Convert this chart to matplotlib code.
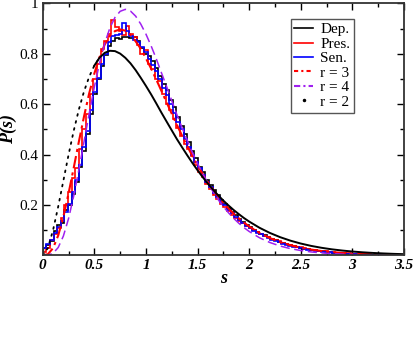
import numpy as np
import matplotlib
matplotlib.use("Agg")
import matplotlib.pyplot as plt
from matplotlib.lines import Line2D

plt.rcParams.update({
    'font.family': 'Liberation Serif',
    'font.size': 11,
})

# histogram bins (width 0.035 from 0 to 3.5)
bin_lo, bin_hi, n_bins = 0.0, 3.5, 100

dep = [0.028, 0.040, 0.058, 0.095, 0.120, 0.130, 0.178, 0.200, 0.245, 0.292,
       0.350, 0.415, 0.480, 0.560, 0.640, 0.700, 0.750, 0.795, 0.830, 0.850,
       0.862, 0.858, 0.868, 0.865, 0.862, 0.868, 0.850, 0.822, 0.800, 0.790,
       0.770, 0.742, 0.712, 0.680, 0.655, 0.618, 0.590, 0.548, 0.512, 0.480,
       0.448, 0.415, 0.385, 0.352, 0.330, 0.300, 0.278, 0.258, 0.238, 0.220,
       0.202, 0.188, 0.170, 0.160, 0.145, 0.132, 0.120, 0.112, 0.102, 0.094,
       0.086, 0.080, 0.072, 0.066, 0.060, 0.054, 0.049, 0.044, 0.040, 0.036,
       0.033, 0.030, 0.027, 0.024, 0.022, 0.020, 0.018, 0.016, 0.014, 0.013,
       0.011, 0.010, 0.009, 0.008, 0.007, 0.006, 0.005, 0.005, 0.004, 0.004,
       0.003, 0.003, 0.002, 0.002, 0.002, 0.001, 0.001, 0.001, 0.001, 0.000]

pres = [0.012, 0.030, 0.060, 0.085, 0.110, 0.150, 0.200, 0.250, 0.305, 0.345,
        0.420, 0.500, 0.560, 0.640, 0.700, 0.760, 0.820, 0.850, 0.880, 0.935,
        0.905, 0.890, 0.875, 0.910, 0.880, 0.865, 0.835, 0.800, 0.815, 0.760,
        0.740, 0.700, 0.690, 0.640, 0.600, 0.575, 0.540, 0.505, 0.475, 0.440,
        0.420, 0.395, 0.360, 0.330, 0.310, 0.282, 0.262, 0.240, 0.225, 0.205,
        0.190, 0.176, 0.160, 0.150, 0.138, 0.128, 0.116, 0.110, 0.100, 0.092,
        0.085, 0.078, 0.071, 0.066, 0.060, 0.055, 0.050, 0.046, 0.042, 0.038,
        0.034, 0.031, 0.028, 0.026, 0.023, 0.021, 0.019, 0.017, 0.016, 0.014,
        0.013, 0.011, 0.010, 0.009, 0.008, 0.007, 0.006, 0.006, 0.005, 0.004,
        0.004, 0.003, 0.003, 0.002, 0.002, 0.002, 0.001, 0.001, 0.001, 0.001]

sen = [0.030, 0.045, 0.062, 0.090, 0.112, 0.138, 0.172, 0.205, 0.252, 0.300,
       0.360, 0.430, 0.495, 0.575, 0.650, 0.705, 0.760, 0.800, 0.845, 0.870,
       0.875, 0.880, 0.920, 0.890, 0.872, 0.855, 0.845, 0.825, 0.805, 0.780,
       0.755, 0.730, 0.700, 0.665, 0.635, 0.600, 0.565, 0.530, 0.500, 0.462,
       0.430, 0.400, 0.370, 0.345, 0.318, 0.292, 0.270, 0.248, 0.232, 0.212,
       0.198, 0.180, 0.166, 0.152, 0.140, 0.128, 0.118, 0.108, 0.098, 0.090,
       0.083, 0.076, 0.069, 0.062, 0.057, 0.051, 0.046, 0.042, 0.038, 0.034,
       0.031, 0.028, 0.025, 0.022, 0.020, 0.018, 0.016, 0.015, 0.013, 0.012,
       0.010, 0.009, 0.008, 0.007, 0.007, 0.006, 0.005, 0.004, 0.004, 0.003,
       0.003, 0.002, 0.002, 0.002, 0.001, 0.001, 0.001, 0.001, 0.000, 0.000]

# smooth curves
s_curve = [0.00, 0.05, 0.10, 0.15, 0.20, 0.25, 0.30, 0.35, 0.40, 0.45,
           0.50, 0.55, 0.60, 0.65, 0.70, 0.75, 0.80, 0.85, 0.90, 0.95,
           1.00, 1.05, 1.10, 1.15, 1.20, 1.25, 1.30, 1.35, 1.40, 1.45,
           1.50, 1.55, 1.60, 1.65, 1.70, 1.75, 1.80, 1.85, 1.90, 1.95,
           2.00, 2.10, 2.20, 2.30, 2.40, 2.50, 2.60, 2.70, 2.80, 2.90,
           3.00, 3.10, 3.20, 3.30, 3.40, 3.50]

r2 = [0.0, 0.0290, 0.1000, 0.1937, 0.2964, 0.3986, 0.4940, 0.5787, 0.6506, 0.7086,
      0.7530, 0.7841, 0.8034, 0.8116, 0.8103, 0.8004, 0.7837, 0.7618, 0.7348, 0.7042,
      0.6721, 0.6385, 0.6028, 0.5660, 0.5307, 0.4957, 0.4609, 0.4286, 0.3969, 0.3664,
      0.3375, 0.3101, 0.2844, 0.2602, 0.2380, 0.2171, 0.1977, 0.1797, 0.1633, 0.1478,
      0.1339, 0.1093, 0.0889, 0.0720, 0.0581, 0.0467, 0.0374, 0.0299, 0.0238, 0.0190,
      0.0150, 0.0119, 0.0094, 0.0074, 0.0058, 0.0045]

r3 = [0.0, 0.0044, 0.0286, 0.0790, 0.1534, 0.2453, 0.3470, 0.4511, 0.5513, 0.6427,
      0.7216, 0.7865, 0.8359, 0.8706, 0.8898, 0.8964, 0.8913, 0.8752, 0.8491, 0.8194,
      0.7815, 0.7409, 0.6974, 0.6522, 0.6068, 0.5617, 0.5174, 0.4745, 0.4332, 0.3941,
      0.3571, 0.3224, 0.2905, 0.2607, 0.2335, 0.2085, 0.1859, 0.1651, 0.1465, 0.1297,
      0.1144, 0.0889, 0.0686, 0.0524, 0.0399, 0.0303, 0.0228, 0.0171, 0.0128, 0.0095,
      0.0071, 0.0052, 0.0039, 0.0028, 0.0021, 0.0015]

r4 = [0.0, 0.0006, 0.0079, 0.0311, 0.0766, 0.1457, 0.2353, 0.3396, 0.4510, 0.5628,
      0.6681, 0.7614, 0.8404, 0.9018, 0.9441, 0.9682, 0.9760, 0.9692, 0.9491, 0.9174,
      0.8776, 0.8309, 0.7797, 0.7242, 0.6696, 0.6135, 0.5578, 0.5060, 0.4562, 0.4087,
      0.3645, 0.3239, 0.2859, 0.2519, 0.2208, 0.1930, 0.1687, 0.1466, 0.1271, 0.1098,
      0.0946, 0.0696, 0.0509, 0.0368, 0.0265, 0.0190, 0.0134, 0.0095, 0.0066, 0.0046,
      0.0032, 0.0022, 0.0015, 0.0010, 0.0007, 0.0005]

x_ticks = [0, 0.5, 1, 1.5, 2, 2.5, 3, 3.5]
x_labels = ['0', '0.5', '1', '1.5', '2', '2.5', '3', '3.5']
y_ticks = [0.2, 0.4, 0.6, 0.8, 1.0]
y_labels = ['0.2', '0.4', '0.6', '0.8', '1']

purple = '#a020f0'

fig = plt.figure(figsize=(4.15, 3.37), dpi=100)
ax = fig.add_axes([0.103, 0.2424, 0.8705, 0.7478])

edges = np.linspace(bin_lo, bin_hi, n_bins + 1)
ax.stairs(dep, edges, color='black', lw=1.2)
ax.stairs(pres, edges, color='red', lw=1.2)
ax.stairs(sen, edges, color='blue', lw=1.2)

ax.plot(s_curve, r3, color='red', lw=1.5, linestyle=(0, (6, 2, 1.5, 2)))
ax.plot(s_curve, r4, color=purple, lw=1.1, linestyle=(0, (6, 3)))
ax.plot(s_curve[:12], r2[:12], color='black', lw=1.3, linestyle=(0, (1, 3)),
        dash_capstyle='round')
ax.plot(s_curve[10:], r2[10:], color='black', lw=1.4)

ax.set_xlim(0, 3.5)
ax.set_ylim(0, 1)
ax.set_xticks(x_ticks)
ax.set_xticklabels(x_labels, fontweight='bold', fontstyle='italic', fontsize=11)
ax.set_xticks(np.arange(0.25, 3.5, 0.5), minor=True)
ax.set_yticks(y_ticks)
ax.set_yticklabels(y_labels, fontsize=11)
ax.set_yticks(np.arange(0.1, 1.0, 0.2), minor=True)
ax.tick_params(which='both', direction='in', top=True, right=True, width=1.0)
ax.tick_params(which='major', length=5, pad=3)
ax.tick_params(which='minor', length=3)
for sp in ax.spines.values():
    sp.set_linewidth(1.3)
    sp.set_color('#333333')

ax.set_xlabel('s', fontweight='bold', fontstyle='italic', fontsize=13, labelpad=-2)
ax.set_ylabel('P(s)', fontweight='bold', fontstyle='italic', fontsize=13)
ax.yaxis.set_label_coords(-0.07, 0.5)

handles = [
    Line2D([], [], color='black', lw=1.2),
    Line2D([], [], color='red', lw=1.2),
    Line2D([], [], color='blue', lw=1.2),
    Line2D([], [], color='red', lw=1.5, linestyle=(0, (2, 1.5, 1, 1.5))),
    Line2D([], [], color=purple, lw=1.5, linestyle=(0, (3, 1.5, 1, 1.5))),
    Line2D([], [], color='black', marker='.', markersize=3, linestyle='none'),
]
labels = ['Dep.', 'Pres.', 'Sen.', 'r = 3', 'r = 4', 'r = 2']
leg = ax.legend(handles, labels, loc='upper right', bbox_to_anchor=(0.862, 0.938),
                borderaxespad=0, fontsize=11, handlelength=1.2, handletextpad=0.5,
                labelspacing=0.05, borderpad=0.25, fancybox=False,
                framealpha=1, edgecolor='#555555', numpoints=1)
leg.get_frame().set_linewidth(1.0)

fig.savefig('out.png', dpi=100)
